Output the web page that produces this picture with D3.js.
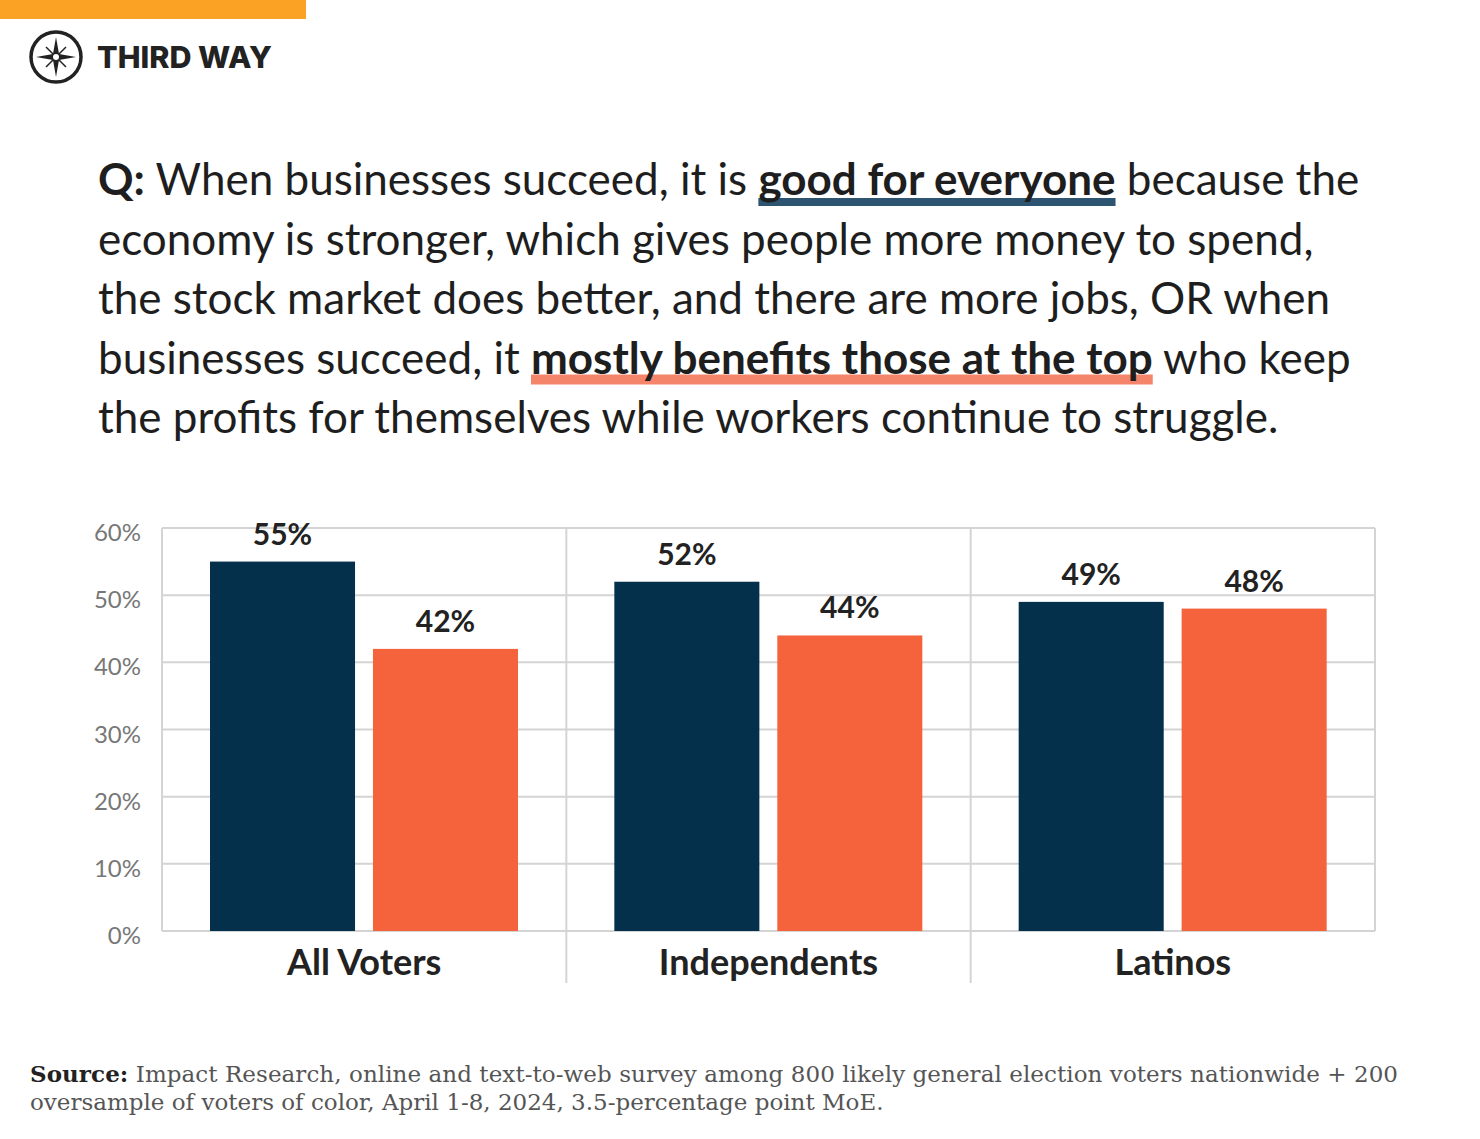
<!DOCTYPE html>
<html>
<head>
<meta charset="utf-8">
<script src="https://cdn.jsdelivr.net/npm/d3@7"></script>
<style>
  body { margin: 0; background: #fff; }
  svg { display: block; }
</style>
</head>
<body>
<svg id="chart" width="1480" height="1139"></svg>
<script>
// data
var groups = ["All Voters", "Independents", "Latinos"];
var goodForEveryone = [55, 52, 49];
var benefitsTop = [42, 44, 48];
var yTicks = [0, 10, 20, 30, 40, 50, 60];

var navy = "#04304b", orange = "#f4633c";
var svg = d3.select("#chart");

// header bar + logo
svg.append("rect").attr("x", 0).attr("y", 0).attr("width", 306).attr("height", 19).attr("fill", "#fba124");
var logo = svg.append("g").attr("transform", "translate(56,57)");
logo.append("circle").attr("r", 25).attr("fill", "none").attr("stroke", "#222").attr("stroke-width", 3.5);
logo.append("path").attr("d", "M0,-20 L3,-3 L20,0 L3,3 L0,20 L-3,3 L-20,0 L-3,-3Z").attr("fill", "#222");
logo.append("path").attr("d", "M-10,-10 L10,10 M10,-10 L-10,10").attr("stroke", "#222").attr("stroke-width", 1.5);
logo.append("circle").attr("r", 3).attr("fill", "#fff");
svg.append("text").attr("x", 97).attr("y", 68).text("THIRD WAY")
  .attr("font-family", "Inter, sans-serif").attr("font-weight", 800).attr("font-size", 30.5).attr("fill", "#222");

// question text
var lines = [
  [["Q:", "b"], [" When businesses succeed, it is ", ""], ["good for everyone", "u1"], [" because the", ""]],
  [["economy is stronger, which gives people more money to spend,", ""]],
  [["the stock market does better, and there are more jobs, OR when", ""]],
  [["businesses succeed, it ", ""], ["mostly benefits those at the top", "u2"], [" who keep", ""]],
  [["the profits for themselves while workers continue to struggle.", ""]]
];
var q = svg.append("g");
lines.forEach(function(parts, i) {
  var ly = 195 + i * 59.5;
  var lx = 98;
  parts.forEach(function(p) {
    var t = q.append("text").attr("x", lx).attr("y", ly).text(p[0])
      .attr("font-family", "Lato, sans-serif").attr("font-size", 44)
      .attr("font-weight", p[1] ? 700 : 400).attr("fill", "#1e1e1e")
      .style("white-space", "pre");
    var w = t.node().getComputedTextLength();
    if (p[1] == "u1" || p[1] == "u2") {
      q.insert("rect", "text").attr("x", lx).attr("y", p[1] == "u1" ? ly + 3 : ly + 1)
        .attr("width", w).attr("height", p[1] == "u1" ? 8 : 10)
        .attr("fill", p[1] == "u1" ? "#2d5470" : "#f4846a");
    }
    lx += w;
  });
});

// chart
var plotLeft = 162, plotRight = 1375, plotTop = 528, plotBottom = 931;
var x0 = d3.scaleBand().domain(groups).range([plotLeft, plotRight]);
var y = d3.scaleLinear().domain([0, 60]).range([plotBottom, plotTop]);

svg.append("g").selectAll("line").data(yTicks).join("line")
  .attr("x1", plotLeft).attr("x2", plotRight).attr("y1", d => y(d)).attr("y2", d => y(d))
  .attr("stroke", "#d4d4d4").attr("stroke-width", 2);
svg.append("g").selectAll("line").data(d3.range(groups.length + 1)).join("line")
  .attr("x1", (d) => plotLeft + d * x0.bandwidth()).attr("x2", (d) => plotLeft + d * x0.bandwidth())
  .attr("y1", plotTop).attr("y2", (d) => d == 0 || d == groups.length ? plotBottom : 983)
  .attr("stroke", "#d4d4d4").attr("stroke-width", 2);

svg.append("g").selectAll("text").data(yTicks).join("text")
  .attr("x", 141).attr("y", d => y(d) + 13).attr("text-anchor", "end")
  .text(d => d + "%").attr("font-family", "Lato, sans-serif").attr("font-size", 24).attr("fill", "#777");

var x1 = d3.scaleBand().domain([0, 1]).range([48, 356]).paddingInner(0.11);
var series = [goodForEveryone, benefitsTop];
series.forEach(function(vals, s) {
  var g = svg.append("g");
  g.selectAll("rect").data(vals).join("rect")
    .attr("x", (d, i) => x0(groups[i]) + x1(s)).attr("width", x1.bandwidth())
    .attr("y", d => y(d)).attr("height", d => plotBottom - y(d))
    .attr("fill", s == 0 ? navy : orange);
  g.selectAll("text").data(vals).join("text")
    .attr("x", (d, i) => x0(groups[i]) + x1(s) + x1.bandwidth() / 2).attr("y", d => y(d) - 17)
    .attr("text-anchor", "middle").text(d => d + "%")
    .attr("font-family", "Lato, sans-serif").attr("font-weight", 700).attr("font-size", 30).attr("fill", "#222");
});

svg.append("g").selectAll("text").data(groups).join("text")
  .attr("x", d => x0(d) + x0.bandwidth() / 2).attr("y", 975).attr("text-anchor", "middle")
  .text(d => d).attr("font-family", "Lato, sans-serif").attr("font-weight", 700).attr("font-size", 36).attr("fill", "#222");

// source
var src = svg.append("g").attr("font-family", "'DejaVu Serif', serif").attr("font-size", 23).attr("fill", "#555");
var t1 = src.append("text").attr("x", 30).attr("y", 1082).attr("textLength", 1368);
t1.append("tspan").text("Source:").attr("font-weight", 700).attr("fill", "#222");
t1.append("tspan").text(" Impact Research, online and text-to-web survey among 800 likely general election voters nationwide + 200");
src.append("text").attr("x", 30).attr("y", 1110).text("oversample of voters of color, April 1-8, 2024, 3.5-percentage point MoE.");
</script>
</body>
</html>
